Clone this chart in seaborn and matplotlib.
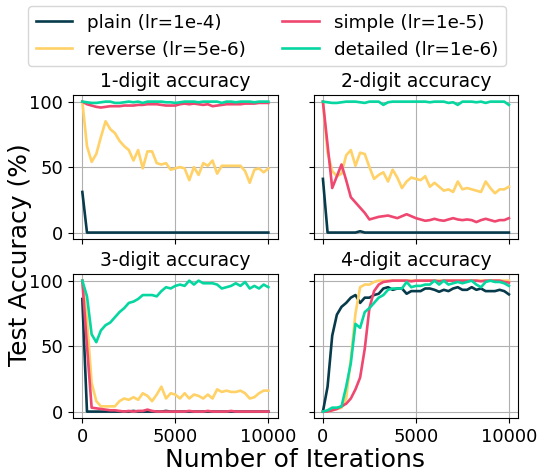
# %%
# === Load modules ===
import numpy as np
import pandas as pd
import seaborn as sns
import matplotlib
matplotlib.use('Agg')
import matplotlib.pyplot as plt

# %%
# === Data (test accuracy, evaluated every 250 iterations) ===
ITERS = list(range(0, 10001, 250))

METHODS = ['plain (lr=1e-4)', 'reverse (lr=5e-6)', 'simple (lr=1e-5)', 'detailed (lr=1e-6)']
COLORS  = ['#073B4C', '#FFD166', '#EF476F', '#06D6A0']
TITLES  = ['1-digit accuracy', '2-digit accuracy', '3-digit accuracy', '4-digit accuracy']

# 1-digit
plain_1    = [31, 0, 0, 0, 0, 0, 0, 0, 0, 0, 0, 0, 0, 0, 0, 0, 0, 0, 0, 0, 0,
              0, 0, 0, 0, 0, 0, 0, 0, 0, 0, 0, 0, 0, 0, 0, 0, 0, 0, 0, 0]
reverse_1  = [100, 66, 54, 60, 73, 85, 79, 76, 70, 66, 63, 55, 63, 49, 62, 62, 53, 52, 53, 48, 49,
              50, 49, 40, 50, 44, 53, 51, 55, 45, 51, 51, 51, 51, 51, 47, 38, 48, 49, 46, 49]
simple_1   = [100, 98, 97, 96, 95.5, 96, 96.5, 96.5, 96.5, 97, 97, 97, 97.5, 97.5, 98, 98, 98, 97.5, 97, 97, 97,
              98, 98.5, 98, 98.5, 98, 97.5, 98, 96.5, 97, 97.5, 98, 98, 98, 98, 98.5, 98.5, 98.5, 99, 99, 99]
detailed_1 = [100, 99.5, 99, 99, 99.5, 100, 100, 99, 99, 99.5, 100, 99.5, 100, 99, 100, 100, 100, 100, 99.5, 99.5, 99,
              99.5, 100, 100, 100, 99.5, 100, 100, 100, 100, 99, 100, 100, 99.5, 100, 100, 100, 99.5, 100, 100, 100]

# 2-digit
plain_2    = [41, 0, 0, 0, 0, 0, 0, 0, 1, 0, 0, 0, 0, 0, 0, 0, 0, 0, 0, 0, 0,
              0, 0, 0, 0, 0, 0, 0, 0, 0, 0, 0, 0, 0, 0, 0, 0, 0, 0, 0, 0]
reverse_2  = [100, 61, 47, 43, 45, 59, 63, 51, 61, 60, 50, 41, 44, 46, 39, 48, 42, 34, 39, 42, 41,
              40, 43, 35, 38, 35, 32, 33, 31, 39, 33, 34, 33, 32, 31, 39, 34, 30, 33, 33, 35]
simple_2   = [100, 67, 34, 43, 52, 40, 27, 23, 19, 15, 10, 11, 12, 12.5, 13, 12, 11, 12.5, 14, 12.5, 11,
              10, 9, 9.5, 10.5, 9.5, 9, 10, 11, 10, 9.5, 10, 9.5, 8, 9.5, 10.5, 9.5, 8.5, 9.5, 9.5, 11]
detailed_2 = [100, 99.5, 99, 99, 99.5, 100, 100, 100, 99.5, 99, 100, 100, 100, 97.5, 99.5, 100, 100, 100, 100, 100, 100,
              100, 100, 99.5, 100, 100, 100, 99, 99.5, 97.5, 100, 100, 100, 99.5, 100, 99, 100, 100, 100, 100, 97.5]

# 3-digit
plain_3    = [86, 0, 0, 0, 0, 0, 0, 0, 0, 0, 0, 0.5, 0, 0, 0, 0, 0, 0, 0.5, 0, 0,
              0, 0, 0, 0, 0, 0, 0, 0, 0, 0, 0, 0, 0, 0, 0, 0, 0, 0, 0, 0]
reverse_3  = [100, 70, 22, 8, 4, 4, 4, 4, 8, 10, 9, 11, 9, 14, 12, 8, 13, 19, 10, 14, 13,
              10, 14, 10, 13, 12, 10, 13, 10, 17, 15, 16, 15, 15, 16, 14, 10, 11, 14, 16, 16]
simple_3   = [100, 50, 3, 2.5, 2, 1.5, 1, 1, 0.5, 0, 0.5, 0, 0.5, 0.5, 1.5, 0.5, 0, 0, 0, 0, 0,
              0, 0, 0.5, 0, 0, 0, 0.5, 0, 0, 0, 0, 0.5, 0, 0, 0, 0, 0, 0, 0, 0]
detailed_3 = [100, 88, 59, 53, 62, 66, 68, 72, 76, 79, 83, 84, 86, 89, 89, 89, 88, 92, 95, 94, 96,
              97, 96, 100, 97, 100, 98, 98, 98, 97, 94, 95, 96, 98, 96, 99, 94, 96, 94, 97, 95]

# 4-digit
plain_4    = [0, 19, 58, 74, 80, 83, 87, 89, 83, 87, 87, 89, 90, 94, 95, 93, 94, 94, 90, 92, 92,
              92, 94, 94, 93, 91.5, 93, 92, 94, 95, 93, 93, 95, 93, 94, 92, 92, 92, 93, 92, 89.5]
reverse_4  = [0, 0, 1, 2, 3, 10, 40, 75, 95, 97, 97, 99, 100, 100, 100, 100, 100, 100, 100, 100, 100,
              100, 100, 100, 100, 100, 100, 100, 100, 100, 100, 100, 100, 100, 100, 100, 100, 100, 100, 100, 100]
simple_4   = [0, 0, 1, 2, 4, 6, 10, 17, 26, 48, 79, 92, 97, 99, 99.5, 100, 100, 100, 100, 99.5, 100,
              100, 100, 100, 100, 99.5, 100, 100, 100, 100, 100, 100, 100, 100, 99.5, 100, 100, 100, 100, 99, 98.5]
detailed_4 = [0, 1, 3, 3, 4, 19, 37, 67, 64, 76, 79, 83, 87, 89, 93, 94, 94, 94, 99, 95, 96,
              96, 97, 97, 100, 97, 100, 97, 98, 99, 98, 99, 100, 97, 95, 99, 100, 99, 99, 98, 96]

PANELS = [
    [plain_1, reverse_1, simple_1, detailed_1],
    [plain_2, reverse_2, simple_2, detailed_2],
    [plain_3, reverse_3, simple_3, detailed_3],
    [plain_4, reverse_4, simple_4, detailed_4],
]

# %%
# === Long-form table ===
rows = []
for p, series in enumerate(PANELS):
    for method, values in zip(METHODS, series):
        for it, acc in zip(ITERS, values):
            rows.append({'panel': p, 'method': method, 'iteration': it, 'accuracy': acc})
df = pd.DataFrame(rows)

# %%
# === Plot ===
palette = dict(zip(METHODS, COLORS))
fig, axes = plt.subplots(2, 2, figsize=(5.37, 4.73), dpi=100, sharex=True, sharey=True)
fig.subplots_adjust(left=0.136, right=0.965, top=0.799, bottom=0.116, wspace=0.176, hspace=0.243)

for p, ax in enumerate(axes.flat):
    sns.lineplot(
        data=df[df['panel'] == p],
        x='iteration',
        y='accuracy',
        hue='method',
        hue_order=METHODS,
        palette=palette,
        linewidth=1.9,
        legend=(p == 0),
        ax=ax,
    )
    ax.set_title(TITLES[p], fontsize=13.5)
    ax.set_xlabel('')
    ax.set_ylabel('')
    ax.grid(True)
    ax.set_xticks([0, 5000, 10000])
    ax.set_yticks([0, 50, 100])
    ax.tick_params(labelsize=13)

handles, labels = axes[0, 0].get_legend_handles_labels()
axes[0, 0].get_legend().remove()
fig.legend(handles, labels, loc='upper center', bbox_to_anchor=(0.497, 1.006), ncol=2, fontsize=13.2)

fig.text(0.55, 0.027, 'Number of Iterations', ha='center', va='center', fontsize=18)
fig.text(0.037, 0.461, 'Test Accuracy (%)', ha='center', va='center', rotation=90, fontsize=18)

plt.savefig('out.png', dpi=100)
